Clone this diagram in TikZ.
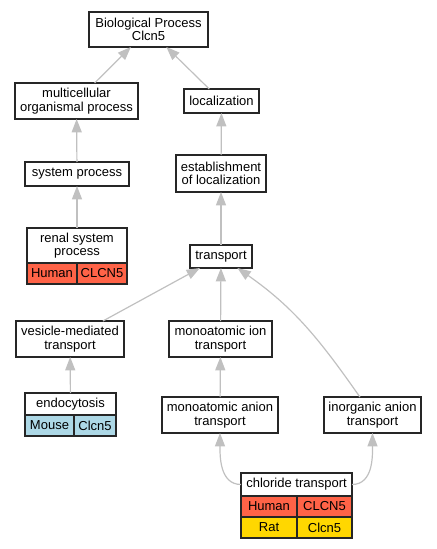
\documentclass[tikz,border=0pt]{standalone}
\usepackage{fontspec}
\setmainfont{Liberation Sans}
\usetikzlibrary{arrows.meta,positioning}
\definecolor{edgegray}{RGB}{192,192,192}
\definecolor{human}{RGB}{255,99,71}
\definecolor{mouse}{RGB}{173,216,230}
\definecolor{rat}{RGB}{255,215,0}

\begin{document}
\begin{tikzpicture}[x=0.75pt,y=-0.75pt,
  term/.style={draw=black!85,line width=1.1pt,fill=white,inner sep=0pt,outer sep=0pt,align=center,font=\fontsize{9.75}{10}\selectfont},
  cell/.style={term,minimum height=15.75pt},
  isa/.style={color=edgegray,line width=0.9pt,-{Triangle[length=10pt,width=7.5pt]}}]
\useasboundingbox (0,0) rectangle (436,549);
\node[term,minimum width=89.25pt,minimum height=26.25pt] (bio) at (148.5,29.5) {Biological Process\\Clcn5};
\node[term,minimum width=92.25pt,minimum height=27pt] (multi) at (76.5,101) {multicellular\\organismal process};
\node[term,minimum width=56.25pt,minimum height=18pt] (loc) at (221.5,101) {localization};
\node[term,minimum width=78pt,minimum height=18pt] (sys) at (77,174) {system process};
\node[term,minimum width=67.5pt,minimum height=27.75pt] (estab) at (221,173.5) {establishment\\of localization};
\node[term,minimum width=75pt,minimum height=26.25pt] (renal) at (77,245.5) {renal system\\process};
\node[cell,fill=human,minimum width=37.5pt,below right=0pt and 0pt of renal.south west] (renalh) {Human};
\node[cell,fill=human,minimum width=37.5pt,right=0pt of renalh] (renalg) {CLCN5};
\node[term,minimum width=46.5pt,minimum height=17.25pt] (trans) at (221,256.5) {transport};
\node[term,minimum width=81pt,minimum height=27pt] (vesic) at (70,339) {vesicle-mediated\\transport};
\node[term,minimum width=77.25pt,minimum height=27pt] (ion) at (220.5,339) {monoatomic ion\\transport};
\node[term,minimum width=68.25pt,minimum height=16.5pt] (endo) at (70.5,404) {endocytosis};
\node[cell,fill=mouse,minimum width=36.75pt,below right=0pt and 0pt of endo.south west] (endoh) {Mouse};
\node[cell,fill=mouse,minimum width=31.5pt,right=0pt of endoh] (endog) {Clcn5};
\node[term,minimum width=87pt,minimum height=27pt] (anion) at (220,415) {monoatomic anion\\transport};
\node[term,minimum width=72.75pt,minimum height=27pt] (inorg) at (372.5,415) {inorganic anion\\transport};
\node[term,minimum width=83.25pt,minimum height=17.25pt] (chl) at (296.5,484.5) {chloride transport};
\node[cell,fill=human,minimum width=42pt,below right=0pt and 0pt of chl.south west] (chlh) {Human};
\node[cell,fill=human,minimum width=41.25pt,right=0pt of chlh] (chlg) {CLCN5};
\node[cell,fill=rat,minimum width=42pt,below=0pt of chlh] (chlr) {Rat};
\node[cell,fill=rat,minimum width=41.25pt,right=0pt of chlr] (chlrg) {Clcn5};

\path[isa] (multi) edge (bio);
\path[isa] (loc) edge (bio);
\path[isa] (sys) edge (multi);
\path[isa] (renal) edge (sys);
\path[isa] (estab) edge (loc);
\path[isa] (trans) edge (estab);
\path[isa] (vesic) edge (trans);
\path[isa] (ion) edge (trans);
\path[isa] (inorg) edge[out=125,in=-35] (trans);
\path[isa] (endo) edge (vesic);
\path[isa] (anion) edge (ion);
\path[isa] (chl) edge[out=180,in=-90] (anion);
\path[isa] (chl) edge[out=0,in=-90] (inorg);
\end{tikzpicture}
\end{document}
